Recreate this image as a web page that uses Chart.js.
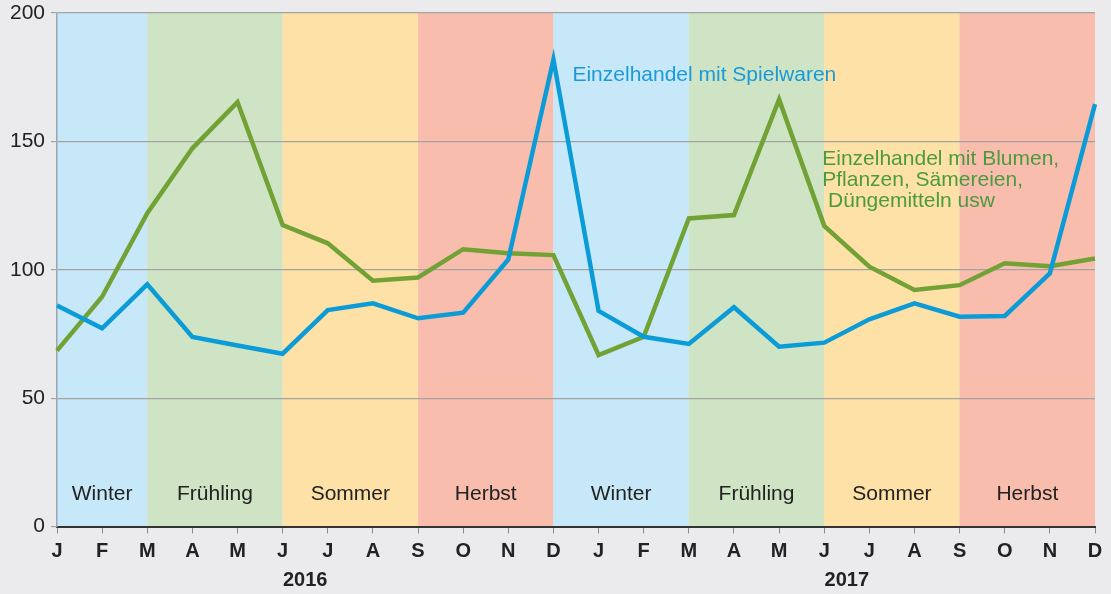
<!DOCTYPE html>
<html lang="de">
<head>
<meta charset="utf-8">
<title>Saisonale Umsätze im Einzelhandel</title>
<script src="https://cdn.jsdelivr.net/npm/chart.js@4.4.1/dist/chart.umd.min.js"></script>
<style>
  html, body { margin: 0; padding: 0; background: #ebebee; }
  #wrap { position: relative; width: 1111px; height: 594px; }
</style>
</head>
<body>
<div id="wrap"><canvas id="chart"></canvas></div>
<script>
// --- Daten ---
const monate = ['J', 'F', 'M', 'A', 'M', 'J', 'J', 'A', 'S', 'O', 'N', 'D',
                'J', 'F', 'M', 'A', 'M', 'J', 'J', 'A', 'S', 'O', 'N', 'D'];
const jahre = ['2016', '2017'];

const spielwaren = [86.1, 77.2, 94.3, 73.8, 70.5, 67.3, 84.3, 86.9, 81.1, 83.3, 104, 181.9,
                    84.0, 73.9, 71.1, 85.4, 70.0, 71.6, 80.7, 86.9, 81.7, 82.0, 98.6, 164.5];
const blumen = [68.5, 89.5, 122, 147.3, 165.3, 117.4, 110.3, 95.7, 97.0, 108, 106.4, 105.7,
                66.8, 73.9, 120, 121.3, 166.3, 117.1, 101.2, 92.1, 94.0, 102.5, 101.4, 104.4];

// Jahreszeiten und ihre Grenzen (Monats-Index)
const jahreszeiten = ['Winter', 'Frühling', 'Sommer', 'Herbst', 'Winter', 'Frühling', 'Sommer', 'Herbst'];
const saisonGrenzen = [0, 2, 5, 8, 11, 14, 17, 20, 23];

const yTicks = [0, 50, 100, 150, 200];

// Farben
const farben = {
  Winter: '#c7e8f8',
  'Frühling': '#cfe4c4',
  Sommer: '#fee1a6',
  Herbst: '#f9bdad'
};
const blau = '#0b9cd8';
const gruen = '#72a136';

const schrift = "'Liberation Sans', Arial, Helvetica, sans-serif";

// --- Plugin: Hintergrund, Jahreszeiten-Bänder und Beschriftungen ---
const saisonPlugin = {
  id: 'saison',
  beforeDraw(chart) {
    const { ctx, chartArea: a, scales: { x, y } } = chart;
    ctx.save();
    ctx.fillStyle = '#ebebee';
    ctx.fillRect(0, 0, chart.width, chart.height);

    jahreszeiten.forEach((name, i) => {
      const x0 = x.getPixelForValue(saisonGrenzen[i]);
      const x1 = x.getPixelForValue(saisonGrenzen[i + 1]);
      ctx.fillStyle = farben[name];
      ctx.fillRect(x0, a.top, x1 - x0, a.bottom - a.top);
    });

    ctx.fillStyle = '#222';
    ctx.font = '21px ' + schrift;
    ctx.textAlign = 'center';
    ctx.textBaseline = 'middle';
    jahreszeiten.forEach((name, i) => {
      const xm = (x.getPixelForValue(saisonGrenzen[i]) + x.getPixelForValue(saisonGrenzen[i + 1])) / 2;
      ctx.fillText(name, xm, y.getPixelForValue(12.6));
    });
    ctx.restore();
  },
  afterDraw(chart) {
    const { ctx, scales: { x, y } } = chart;
    ctx.save();
    // Jahre unter der Achse
    ctx.fillStyle = '#222';
    ctx.font = 'bold 20px ' + schrift;
    ctx.textAlign = 'center';
    ctx.textBaseline = 'middle';
    ctx.fillText(jahre[0], x.getPixelForValue(5.5), 580);
    ctx.fillText(jahre[1], x.getPixelForValue(17.5), 580);

    // Reihenbeschriftungen
    ctx.font = '21px ' + schrift;
    ctx.textAlign = 'left';
    ctx.fillStyle = '#1a9ad6';
    ctx.fillText('Einzelhandel mit Spielwaren', x.getPixelForValue(11) + 19, y.getPixelForValue(175.6));
    ctx.fillStyle = '#4b9a3e';
    const gx = x.getPixelForValue(17) - 2;
    ctx.fillText('Einzelhandel mit Blumen,', gx, y.getPixelForValue(143.0));
    ctx.fillText('Pflanzen, Sämereien,', gx, y.getPixelForValue(134.8));
    ctx.fillText(' Düngemitteln usw', gx, y.getPixelForValue(126.6));
    ctx.restore();
  }
};

new Chart(document.getElementById('chart'), {
  type: 'line',
  data: {
    labels: monate,
    datasets: [
      {
        label: 'Einzelhandel mit Spielwaren',
        data: spielwaren,
        borderColor: blau,
        borderWidth: 4.5,
        pointRadius: 0,
        tension: 0,
        borderJoinStyle: 'miter'
      },
      {
        label: 'Einzelhandel mit Blumen, Pflanzen, Sämereien, Düngemitteln usw',
        data: blumen,
        borderColor: gruen,
        borderWidth: 4.5,
        pointRadius: 0,
        tension: 0,
        borderJoinStyle: 'miter'
      }
    ]
  },
  options: {
    responsive: true,
    maintainAspectRatio: false,
    animation: false,
    layout: { padding: { top: 13, right: 16, left: 0, bottom: 0 } },
    plugins: {
      legend: { display: false },
      tooltip: { enabled: false }
    },
    scales: {
      x: {
        offset: false,
        afterFit: (s) => { s.height = 67.5; s.paddingLeft = 0; s.paddingRight = 0; },
        border: { color: '#333', width: 2 },
        grid: { drawOnChartArea: false, color: '#8a8a8a', tickLength: 7 },
        ticks: {
          color: '#222',
          font: { family: schrift, size: 20, weight: 'bold' },
          padding: 6,
          maxRotation: 0,
          autoSkip: false
        }
      },
      y: {
        min: 0,
        max: 200,
        afterFit: (s) => { s.width = 57; s.paddingTop = 0; s.paddingBottom = 0; },
        afterBuildTicks: (s) => { s.ticks = yTicks.map(v => ({ value: v })); },
        border: { color: '#9aa6b2', width: 1.5 },
        grid: { color: '#a3a3a3', lineWidth: 1.2, tickLength: 6 },
        ticks: {
          color: '#222',
          font: { family: schrift, size: 21 },
          padding: 6
        }
      }
    }
  },
  plugins: [saisonPlugin]
});
</script>
</body>
</html>
